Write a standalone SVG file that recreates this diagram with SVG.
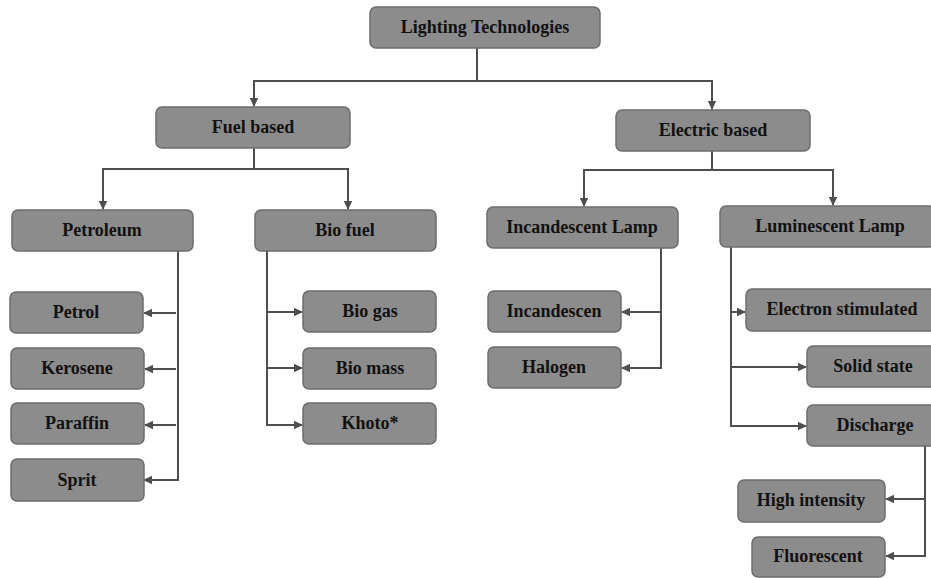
<svg xmlns="http://www.w3.org/2000/svg" width="931" height="578" viewBox="0 0 931 578">
<style>
.box rect{fill:#8c8c8c;stroke:#6c6c6c;stroke-width:1.5}
.box text{font-family:"Liberation Serif","Times New Roman",serif;font-weight:bold;font-size:18px;fill:#111;text-anchor:middle}
.conn path{fill:none;stroke:#4e4e4e;stroke-width:2;marker-end:url(#ah)}
</style>
<defs>
<marker id="ah" markerUnits="userSpaceOnUse" markerWidth="10" markerHeight="10" refX="8" refY="5" orient="auto">
<path d="M0,0.8 L9,5 L0,9.2 Z" fill="#4e4e4e"/>
</marker>
</defs>
<rect x="0" y="0" width="931" height="578" fill="#ffffff"/>
<g class="conn" id="connectors">
<path d="M477 48 V81 H254 V106"/>
<path d="M477 81 H712 V109"/>
<path d="M254 148 V169 H103 V209"/>
<path d="M254 169 H348 V209"/>
<path d="M712 151 V170 H584 V206"/>
<path d="M712 170 H833 V205"/>
<path d="M178 251 V480 H144"/>
<path d="M176 313 H144"/>
<path d="M176 369 H145"/>
<path d="M176 425 H145"/>
<path d="M267 251 V425 H302"/>
<path d="M267 312 H302"/>
<path d="M267 368 H302"/>
<path d="M661 248 V368 H622"/>
<path d="M661 312 H622"/>
<path d="M731 247 V426 H806"/>
<path d="M731 312 H745"/>
<path d="M731 367 H806"/>
<path d="M925 446 V556 H886"/>
<path d="M925 499 H886"/>
</g>
<g class="box" id="lighting"><rect x="370" y="7" width="230" height="41" rx="6"/><text x="485" y="33">Lighting Technologies</text></g>
<g class="box" id="fuel"><rect x="156" y="107" width="194" height="41" rx="6"/><text x="253" y="133">Fuel based</text></g>
<g class="box" id="electric"><rect x="616" y="110" width="194" height="41" rx="6"/><text x="713" y="136">Electric based</text></g>
<g class="box" id="petroleum"><rect x="12" y="210" width="181" height="41" rx="6"/><text x="102" y="236">Petroleum</text></g>
<g class="box" id="biofuel"><rect x="255" y="210" width="181" height="41" rx="6"/><text x="345" y="236">Bio fuel</text></g>
<g class="box" id="incandescent-lamp"><rect x="487" y="207" width="191" height="41" rx="6"/><text x="582" y="233">Incandescent Lamp</text></g>
<g class="box" id="luminescent-lamp"><rect x="720" y="206" width="215" height="41" rx="6"/><text x="830" y="232">Luminescent Lamp</text></g>
<g class="box" id="petrol"><rect x="10" y="292" width="133" height="41" rx="6"/><text x="76" y="318">Petrol</text></g>
<g class="box" id="kerosene"><rect x="11" y="348" width="133" height="41" rx="6"/><text x="77" y="374">Kerosene</text></g>
<g class="box" id="paraffin"><rect x="11" y="403" width="133" height="41" rx="6"/><text x="77" y="429">Paraffin</text></g>
<g class="box" id="sprit"><rect x="11" y="459" width="133" height="42" rx="6"/><text x="77" y="486">Sprit</text></g>
<g class="box" id="biogas"><rect x="303" y="291" width="133" height="41" rx="6"/><text x="370" y="317">Bio gas</text></g>
<g class="box" id="biomass"><rect x="303" y="348" width="133" height="41" rx="6"/><text x="370" y="374">Bio mass</text></g>
<g class="box" id="khoto"><rect x="303" y="403" width="133" height="41" rx="6"/><text x="370" y="429">Khoto*</text></g>
<g class="box" id="incandescen"><rect x="488" y="291" width="133" height="41" rx="6"/><text x="554" y="317">Incandescen</text></g>
<g class="box" id="halogen"><rect x="488" y="347" width="133" height="41" rx="6"/><text x="554" y="373">Halogen</text></g>
<g class="box" id="electron"><rect x="746" y="289" width="190" height="42" rx="6"/><text x="842" y="315">Electron stimulated</text></g>
<g class="box" id="solid"><rect x="807" y="346" width="130" height="41" rx="6"/><text x="873" y="372">Solid state</text></g>
<g class="box" id="discharge"><rect x="807" y="405" width="130" height="41" rx="6"/><text x="875" y="431">Discharge</text></g>
<g class="box" id="high"><rect x="738" y="480" width="147" height="42" rx="6"/><text x="811" y="506">High intensity</text></g>
<g class="box" id="fluorescent"><rect x="752" y="537" width="133" height="40" rx="6"/><text x="818" y="562">Fluorescent</text></g>
</svg>
